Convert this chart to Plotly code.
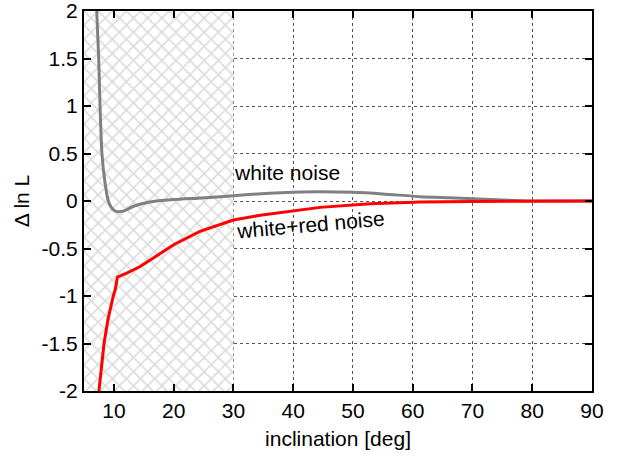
import plotly.graph_objects as go

# white noise curve
white_x = [7.13, 7.46, 7.68, 8.0, 8.5, 9.07, 9.6, 10.2, 11.0, 12.0, 13.5, 16.0, 20.0, 24.0, 27.8, 30.0, 34.0, 38.0, 44.0, 50.0, 55.0, 61.3, 66.0, 70.2, 74.0, 78.0, 80.0, 85.0, 90.0]
white_y = [2.0, 1.5, 1.0, 0.5, 0.2, 0.0, -0.07, -0.105, -0.113, -0.095, -0.05, -0.01, 0.015, 0.03, 0.045, 0.055, 0.075, 0.088, 0.098, 0.092, 0.075, 0.045, 0.034, 0.024, 0.012, 0.003, 0.0, 0.0, 0.0]

# white+red noise curve
red_x = [7.5, 8.35, 9.0, 9.6, 9.9, 10.2, 10.6, 12.15, 14.4, 16.6, 20.0, 24.4, 27.8, 30.0, 34.5, 40.0, 44.5, 52.9, 61.3, 70.0, 80.0, 90.0]
red_y = [-2.0, -1.5, -1.25, -1.07, -1.0, -0.94, -0.80, -0.76, -0.69, -0.60, -0.46, -0.32, -0.25, -0.20, -0.15, -0.10, -0.067, -0.03, -0.01, -0.004, 0.0, 0.0]

# excluded (hatched) region
hatch_x = [5, 30, 30, 5, 5]
hatch_y = [-2, -2, 2, 2, -2]

x_ticks = [10, 20, 30, 40, 50, 60, 70, 80, 90]
y_ticks = [-2, -1.5, -1, -0.5, 0, 0.5, 1, 1.5, 2]
y_labels = ["-2", "-1.5", "-1", "-0.5", "0", "0.5", "1", "1.5", "2"]

font = "Liberation Sans, Arial, sans-serif"
fs = 21

fig = go.Figure()
fig.add_trace(go.Scatter(
    x=hatch_x, y=hatch_y, mode="none", fill="toself",
    fillcolor="white",
    fillpattern=dict(shape="x", fgcolor="#b8b8b8", bgcolor="white", size=10, solidity=0.3),
    hoverinfo="skip", showlegend=False))
fig.add_trace(go.Scatter(x=white_x, y=white_y, mode="lines",
                         line=dict(color="#808080", width=3, shape="spline", smoothing=0.6),
                         showlegend=False))
fig.add_trace(go.Scatter(x=red_x, y=red_y, mode="lines",
                         line=dict(color="#ff0000", width=3),
                         showlegend=False))

fig.add_annotation(x=29.8, y=0.3, text="white noise", showarrow=False,
                   xanchor="left", yanchor="middle", font=dict(size=fs, color="black", family=font))
fig.add_annotation(x=42.9, y=-0.25, text="white+red noise", showarrow=False,
                   textangle=-5, xanchor="center", yanchor="middle",
                   font=dict(size=fs, color="black", family=font))

axis_common = dict(
    showline=True, linecolor="black", linewidth=2, mirror="ticks",
    ticks="inside", ticklen=7, tickwidth=1.5, tickcolor="black",
    showgrid=True, gridcolor="#555555", gridwidth=1, griddash="dot",
    zeroline=False, automargin=False, ticklabeloverflow="allow",
    tickfont=dict(size=fs, color="black", family=font),
)
fig.update_xaxes(range=[5, 90], tickvals=x_ticks,
                 title=dict(text="inclination [deg]", font=dict(size=fs, color="black", family=font), standoff=10),
                 **axis_common)
fig.update_yaxes(range=[-2, 2], tickvals=y_ticks, ticktext=y_labels,
                 title=dict(text="Δ ln L", font=dict(size=fs, color="black", family=font), standoff=6),
                 **axis_common)

fig.update_layout(width=617, height=460, margin=dict(l=84, r=25, t=11, b=69),
                  plot_bgcolor="white", paper_bgcolor="white",
                  font=dict(family=font, color="black"))
fig.write_html("out.html", config={"displayModeBar": False},
               post_script="document.body.style.margin='0';")
